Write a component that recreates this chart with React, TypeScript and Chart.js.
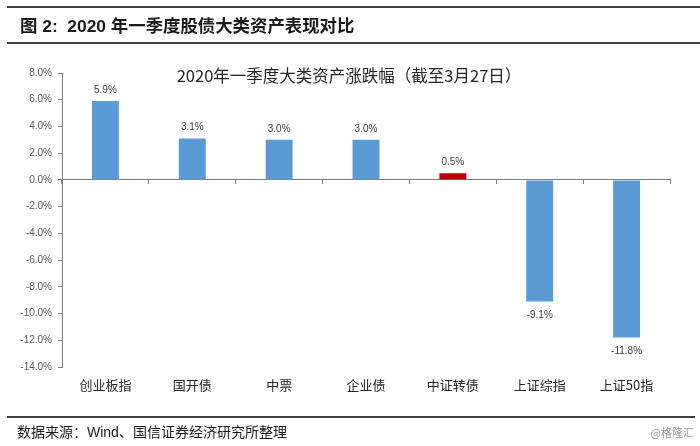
import React, { useEffect, useRef } from "react";
import { Chart, registerables } from "chart.js";

Chart.register(...registerables);

const categories = ["创业板指", "国开债", "中票", "企业债", "中证转债", "上证综指", "上证50指"];
const returns = [5.9, 3.1, 3.0, 3.0, 0.5, -9.1, -11.8];
const barColors = ["#5B9BD5", "#5B9BD5", "#5B9BD5", "#5B9BD5", "#C00000", "#5B9BD5", "#5B9BD5"];
const yMin = -14;
const yMax = 8;
const yStep = 2;

const headerTitle = "图 2:  2020 年一季度股债大类资产表现对比";
const chartTitle = "2020年一季度大类资产涨跌幅（截至3月27日）";
const sourceText = "数据来源：Wind、国信证券经济研究所整理";
const watermark = "@格隆汇";

const CJK = '"Noto Sans CJK SC", sans-serif';
const LATIN = '"Liberation Sans", "Noto Sans CJK SC", sans-serif';

const dataLabelPlugin = {
  id: "dataLabels",
  afterDatasetsDraw(chart: any) {
    const ctx = chart.ctx;
    const meta = chart.getDatasetMeta(0);
    const data = chart.data.datasets[0].data as number[];
    ctx.save();
    ctx.font = '10px "Liberation Sans", sans-serif';
    ctx.fillStyle = "#404040";
    ctx.textAlign = "center";
    ctx.textBaseline = "middle";
    meta.data.forEach((bar: any, i: number) => {
      const v = data[i];
      const y = v >= 0 ? bar.y - 11 : bar.y + 14;
      ctx.fillText(v.toFixed(1) + "%", bar.x, y);
    });
    ctx.restore();
  },
};

export default function App() {
  const canvasRef = useRef<HTMLCanvasElement | null>(null);

  useEffect(() => {
    if (!canvasRef.current) return;
    const chart = new Chart(canvasRef.current, {
      type: "bar",
      data: {
        labels: categories,
        datasets: [
          {
            data: returns,
            backgroundColor: barColors,
            barPercentage: 0.31,
            categoryPercentage: 1,
            xAxisID: "x",
            yAxisID: "y",
          },
        ],
      },
      options: {
        animation: false,
        responsive: false,
        maintainAspectRatio: false,
        layout: { padding: { top: 73, left: 0, right: 30, bottom: 0 } },
        plugins: {
          legend: { display: false },
          title: { display: false },
          tooltip: { enabled: false },
        },
        scales: {
          y: {
            min: yMin,
            max: yMax,
            position: "left",
            ticks: {
              stepSize: yStep,
              callback: (v: any) => Number(v).toFixed(1) + "%",
              font: { family: '"Liberation Sans", sans-serif', size: 10 },
              color: "#595959",
              padding: 6,
            },
            grid: {
              drawOnChartArea: false,
              drawTicks: true,
              tickLength: 4,
              color: "#7F7F7F",
            },
            border: { display: true, color: "#7F7F7F", width: 1 },
            afterFit: (scale: any) => {
              scale.width = 62;
            },
          },
          x: {
            type: "category",
            position: { y: 0 } as any,
            offset: true,
            ticks: { display: false },
            grid: {
              drawOnChartArea: false,
              drawTicks: true,
              tickLength: 4,
              offset: true,
              color: "#7F7F7F",
            },
            border: { display: true, color: "#7F7F7F", width: 1 },
          },
          x2: {
            type: "category",
            position: "bottom",
            offset: true,
            ticks: {
              font: { family: CJK, size: 13 },
              color: "#262626",
              padding: 10,
              maxRotation: 0,
              autoSkip: false,
            },
            grid: { display: false, drawTicks: false },
            border: { display: false },
            afterFit: (scale: any) => {
              scale.height = 79;
            },
          },
        },
      } as any,
      plugins: [dataLabelPlugin],
    });
    return () => chart.destroy();
  }, []);

  return (
    <div style={{ position: "absolute", left: 0, top: 0, width: 700, height: 446, background: "#fff", overflow: "hidden" }}>
      <canvas ref={canvasRef} width={700} height={446} style={{ position: "absolute", left: 0, top: 0, width: 700, height: 446 }} />
      <div style={{ position: "absolute", left: 7, right: 0, top: 6, height: 2, background: "#404040" }} />
      <div
        style={{
          position: "absolute",
          left: 20,
          top: 14,
          height: 24,
          lineHeight: "24px",
          fontFamily: LATIN,
          fontWeight: "bold",
          fontSize: 17.4,
          color: "#1a1a1a",
          whiteSpace: "pre",
        }}
      >
        {headerTitle}
      </div>
      <div style={{ position: "absolute", left: 7, right: 0, top: 42, height: 2, background: "#404040" }} />
      <div
        style={{
          position: "absolute",
          left: 0,
          width: 698,
          top: 64,
          height: 22,
          lineHeight: "22px",
          textAlign: "center",
          fontFamily: CJK,
          fontSize: 16.5,
          color: "#262626",
          whiteSpace: "pre",
        }}
      >
        {chartTitle}
      </div>
      <div style={{ position: "absolute", left: 7, width: 688, top: 416, height: 2, background: "#404040" }} />
      <div
        style={{
          position: "absolute",
          left: 17,
          top: 422,
          height: 20,
          lineHeight: "20px",
          fontFamily: LATIN,
          fontSize: 14,
          color: "#1a1a1a",
          whiteSpace: "pre",
        }}
      >
        {sourceText}
      </div>
      <div
        style={{
          position: "absolute",
          right: 6,
          top: 424,
          height: 16,
          lineHeight: "16px",
          fontFamily: CJK,
          fontSize: 11,
          color: "#9a9a9a",
          whiteSpace: "pre",
        }}
      >
        {watermark}
      </div>
    </div>
  );
}
